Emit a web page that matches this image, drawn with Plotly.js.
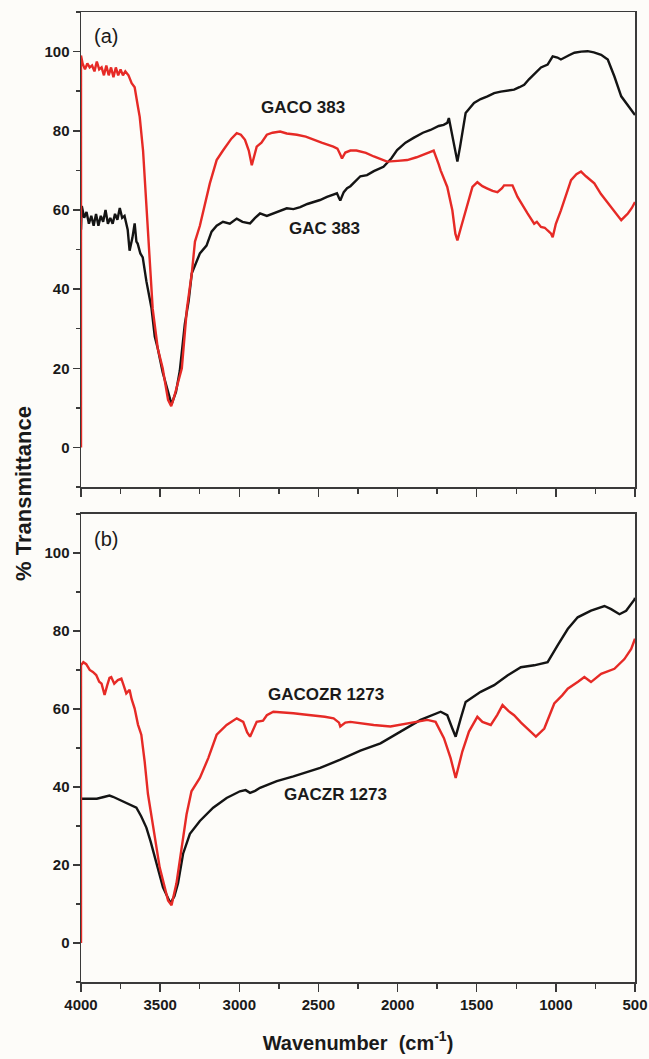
<!DOCTYPE html>
<html>
<head>
<meta charset="utf-8">
<script src="https://cdn.plot.ly/plotly-3.0.1.min.js"></script>
<style>html,body{margin:0;padding:0;background:#fdfcf9;}#chart{width:649px;height:1059px;}</style>
</head>
<body>
<div id="chart"></div>
<script>
// ---------- Panel (a) : GACO 383 (red) ----------
const gaco383_x = [4000,4000,3990,3975,3960,3945,3930,3915,3900,3885,3870,3855,3840,3825,3810,3795,3780,3765,3750,3735,3720,3700,3680,3661,3640,3629,3608,3587,3566,3547,3515,3484,3450,3430,3410,3363,3331,3300,3280,3249,3186,3143,3103,3050,3016,2990,2964,2940,2921,2905,2890,2860,2826,2790,2742,2700,2636,2580,2533,2480,2406,2380,2362,2351,2330,2298,2260,2235,2200,2150,2066,2000,1939,1880,1820,1772,1740,1728,1686,1654,1635,1622,1600,1581,1555,1527,1496,1464,1432,1400,1369,1340,1327,1274,1242,1210,1179,1137,1120,1094,1070,1052,1030,1020,1000,968,935,904,870,841,810,757,715,672,630,587,560,545,520,500];
const gaco383_y = [0,99,97,95.5,97,96,96.5,95,97.5,95.5,96,94,96.5,94,96,93.5,96,94,95.5,94,95,94,92,91,86,83.5,75,60.7,44.7,35,25,20,12,10.4,13,20,35,44,52,56,66.7,72.6,75,78,79.4,79,77.7,75,71.3,74,76,77,79,79.5,79.8,79.3,79,78.5,77.7,77,76,75.5,74,73,74.5,75,75,74.8,74.4,73.5,72.2,72.4,72.6,73.3,74.2,75,71.5,70,65.8,59.9,54,52.3,55.5,58.2,62,65.8,67,66,65.4,64.8,64.5,65.5,66.2,66.2,63.3,61,59.1,56.5,57,55.7,55.5,54.8,54,53.1,56.5,59.9,64,67.5,69,69.7,68.5,66.7,64,61.7,59.5,57.4,58.5,59.1,60.5,62];

// ---------- Panel (a) : GAC 383 (black) ----------
const gac383_x = [4000,3995,3980,3965,3950,3935,3920,3905,3890,3875,3860,3845,3830,3815,3800,3785,3770,3755,3740,3725,3705,3693,3675,3661,3650,3642,3625,3610,3587,3555,3534,3515,3484,3452,3428,3400,3376,3344,3320,3300,3249,3207,3175,3143,3103,3060,3016,2980,2932,2900,2869,2826,2786,2740,2700,2658,2615,2570,2533,2490,2446,2400,2383,2370,2362,2340,2319,2298,2270,2235,2193,2150,2089,2040,2003,1950,1899,1840,1792,1740,1709,1686,1676,1654,1635,1622,1605,1591,1570,1517,1475,1432,1390,1348,1300,1264,1230,1200,1170,1137,1094,1052,1020,990,968,920,883,840,799,760,714,672,630,587,555,535,515,500];
const gac383_y = [55,61,58,59.5,56.5,58.5,56,59,56,58.5,57,60,56.5,58,56.5,59,57.5,60.5,58,58.5,55,49.7,53,56.6,52,51.5,49,48,42,35.3,28,25,19,14.2,10.9,14,19.3,31.2,37,44,49,51,54.5,56,57,56.5,57.8,57,56.6,58,59.1,58.5,59.1,59.8,60.4,60.2,60.7,61.5,62,62.5,63.3,64,64.2,63,62.4,64.5,65.5,66,67,68.5,68.8,69.8,70.9,73,75.1,77,78.2,79.5,80.2,81.2,81.5,82,83.2,78.5,74,72.2,76,79.4,84.5,87,88,88.7,89.5,89.9,90.2,90.4,91,91.6,93,94.2,96,96.7,98.8,98.5,98,99,99.7,100,100.1,99.8,99.2,98,93.7,88.7,87,86.1,85,84];

// ---------- Panel (b) : GACOZR 1273 (red) ----------
const gacozr_x = [4000,4000,3985,3967,3945,3925,3904,3885,3870,3851,3835,3820,3809,3790,3767,3745,3730,3714,3693,3680,3661,3640,3619,3598,3577,3545,3503,3450,3428,3397,3365,3333,3302,3249,3196,3143,3080,3016,2975,2950,2932,2910,2890,2850,2826,2785,2720,2658,2590,2531,2460,2404,2370,2362,2330,2298,2235,2151,2045,1939,1850,1812,1760,1707,1665,1633,1610,1591,1549,1496,1464,1411,1370,1337,1300,1264,1220,1179,1126,1073,1010,960,925,860,820,778,714,630,567,524,503,500];
const gacozr_y = [0,71.2,72,71.5,70,69.5,68.7,67,66.5,63.6,66,68,68.2,66.5,67.4,67.8,66,64,64.9,62.5,60.1,56,53.4,46.6,38.2,29.6,19.4,10.9,9.7,15.3,23.7,33,38.9,42.3,47.4,53.4,55.9,57.6,56.7,54,52.9,55,56.7,57,58.4,59.3,59,58.9,58.6,58.4,58,57.6,56.5,55.5,56.5,56.7,56.3,55.9,55.5,56.3,56.8,57.2,56.7,52.5,47.4,42.3,46,49.1,54.2,58,56.7,55.9,58.5,61,59.5,58.4,56.5,55,52.9,55,61.4,63.5,65.2,67,68.2,66.9,69,70.3,72.8,75.4,77.5,78];

// ---------- Panel (b) : GACZR 1273 (black) ----------
const gaczr_x = [4000,3950,3900,3850,3820,3798,3760,3714,3650,3620,3587,3560,3534,3500,3482,3435,3410,3387,3355,3312,3249,3165,3080,2996,2960,2932,2900,2869,2763,2658,2552,2489,2362,2235,2108,1982,1855,1728,1686,1654,1633,1601,1570,1475,1390,1306,1221,1137,1052,989,925,862,778,693,651,598,556,503,500];
const gaczr_y = [37,37,37,37.5,37.8,37.5,36.8,36,34.7,32.5,29.6,26,22,17.5,14.3,10.2,12,15.3,22.9,28,31.3,34.7,37.2,38.9,39.2,38.5,39,39.8,41.5,42.7,44,44.9,47,49.3,51.2,54.2,57.2,59.3,58.4,55,52.9,57.6,61.8,64.4,66.1,68.6,70.7,71.2,72,76.3,80.5,83.5,85.2,86.4,85.6,84.3,85.2,88.1,88.5];

// ---------- Labels ----------
const panelLabels = ['(a)', '(b)'];
const curveLabels = ['GACO 383', 'GAC 383', 'GACOZR 1273', 'GACZR 1273'];
const yTickVals = [0, 20, 40, 60, 80, 100];
const xTickVals = [4000, 3500, 3000, 2500, 2000, 1500, 1000, 500];

const RED = '#e62a26';
const BLK = '#141414';
const AX = '#3a3a3a';
const FONT = 'Liberation Sans, Arial, sans-serif';

const traces = [
  {x: gac383_x, y: gac383_y, xaxis: 'x2', yaxis: 'y2', mode: 'lines', line: {color: BLK, width: 2.4}, name: curveLabels[1]},
  {x: gaco383_x, y: gaco383_y, xaxis: 'x2', yaxis: 'y2', mode: 'lines', line: {color: RED, width: 2.4}, name: curveLabels[0]},
  {x: gaczr_x, y: gaczr_y, xaxis: 'x', yaxis: 'y', mode: 'lines', line: {color: BLK, width: 2.4}, name: curveLabels[3]},
  {x: gacozr_x, y: gacozr_y, xaxis: 'x', yaxis: 'y', mode: 'lines', line: {color: RED, width: 2.4}, name: curveLabels[2]}
];

const xCommon = {
  range: [4000, 500], tickvals: xTickVals, ticks: 'outside', ticklen: 8, tickwidth: 1.5, tickcolor: AX,
  minor: {dtick: 250, tick0: 0, ticks: 'outside', ticklen: 5, tickwidth: 1.5, tickcolor: AX},
  showline: true, mirror: true, linecolor: AX, linewidth: 1.5, showgrid: false, zeroline: false,
  tickfont: {family: FONT, size: 15, color: '#1a1a1a', weight: 'bold'}, layer: 'below traces'
};
const yCommon = {
  range: [-10, 110], tickvals: yTickVals, ticks: 'outside', ticklen: 7, tickwidth: 1.5, tickcolor: AX,
  minor: {dtick: 10, tick0: 0, ticks: 'outside', ticklen: 4, tickwidth: 1.5, tickcolor: AX},
  showline: true, mirror: true, linecolor: AX, linewidth: 1.5, showgrid: false, zeroline: false,
  tickfont: {family: FONT, size: 15, color: '#1a1a1a', weight: 'bold'}, layer: 'below traces'
};

const layout = {
  width: 649, height: 1059,
  margin: {l: 81, r: 14, t: 12, b: 77},
  paper_bgcolor: '#fdfcf9', plot_bgcolor: '#fdfcf9',
  showlegend: false,
  xaxis: Object.assign({}, xCommon, {anchor: 'y', domain: [0, 1],
    title: {text: 'Wavenumber  (cm<sup>-1</sup>)', font: {family: FONT, size: 20, color: '#1a1a1a', weight: 'bold'}, standoff: 24}}),
  yaxis: Object.assign({}, yCommon, {anchor: 'x', domain: [0, 0.4825]}),
  xaxis2: Object.assign({}, xCommon, {anchor: 'y2', domain: [0, 1], matches: 'x', showticklabels: false}),
  yaxis2: Object.assign({}, yCommon, {anchor: 'x2', domain: [0.5103, 1]}),
  annotations: [
    {text: panelLabels[0], xref: 'x2', yref: 'y2', x: 3840, y: 104, showarrow: false, font: {family: FONT, size: 20, color: '#1a1a1a'}},
    {text: panelLabels[1], xref: 'x', yref: 'y', x: 3840, y: 103.5, showarrow: false, font: {family: FONT, size: 20, color: '#1a1a1a'}},
    {text: '<b>' + curveLabels[0] + '</b>', xref: 'x2', yref: 'y2', x: 2595, y: 86, showarrow: false, font: {family: FONT, size: 17, color: '#1a1a1a'}},
    {text: '<b>' + curveLabels[1] + '</b>', xref: 'x2', yref: 'y2', x: 2460, y: 55.3, showarrow: false, font: {family: FONT, size: 17, color: '#1a1a1a'}},
    {text: '<b>' + curveLabels[2] + '</b>', xref: 'x', yref: 'y', x: 2450, y: 63.7, showarrow: false, font: {family: FONT, size: 17, color: '#1a1a1a'}},
    {text: '<b>' + curveLabels[3] + '</b>', xref: 'x', yref: 'y', x: 2390, y: 38, showarrow: false, font: {family: FONT, size: 17, color: '#1a1a1a'}},
    {text: '<b>% Transmittance</b>', xref: 'paper', yref: 'paper', x: -0.105, y: 0.504, textangle: -90, showarrow: false,
     xanchor: 'center', yanchor: 'middle', font: {family: FONT, size: 22, color: '#1a1a1a'}}
  ]
};

Plotly.newPlot('chart', traces, layout, {staticPlot: true, displayModeBar: false});
</script>
</body>
</html>
